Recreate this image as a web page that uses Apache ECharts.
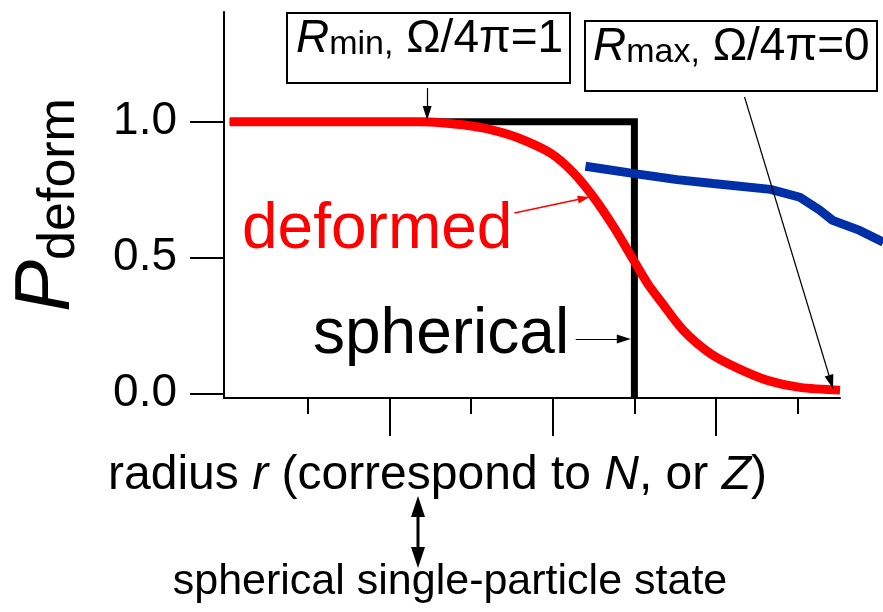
<!DOCTYPE html>
<html>
<head>
<meta charset="utf-8">
<script src="https://cdn.jsdelivr.net/npm/echarts@6/dist/echarts.min.js"></script>
<style>
  html, body { margin: 0; padding: 0; background: #fff; }
  #chart { width: 883px; height: 612px; }
</style>
</head>
<body>
<div id="chart"></div>
<script>
// Radius r in tick units, probability of a deformed shape P_deform.
const deformedR = [0.04, 2.39, 2.63, 2.96, 3.25, 3.58, 3.98, 4.26, 4.50, 4.75, 4.99, 5.16, 5.32, 5.60, 5.93, 6.27, 6.63, 7.03, 7.52];
const deformedP = [1.00, 1.00, 0.996, 0.986, 0.970, 0.940, 0.883, 0.810, 0.722, 0.611, 0.490, 0.405, 0.340, 0.232, 0.147, 0.092, 0.048, 0.022, 0.012];

// Spherical limit: a sharp step at the single-particle radius.
const sphericalR = [0.04, 5.0, 5.0];
const sphericalP = [1.0, 1.0, -0.017];

// Upper curve, continuing past the right end of the axis.
const upperR = [4.41, 4.99, 5.53, 5.97, 6.67, 7.03, 7.27, 7.43, 7.76, 8.05];
const upperP = [0.836, 0.810, 0.787, 0.773, 0.751, 0.722, 0.675, 0.637, 0.600, 0.556];

// Axis ranges and tick positions.
const xRange = [-0.03, 7.52];
const yRange = [-0.017, 1.404];
const xMinorTicks = [1, 3, 5, 7];
const xMajorTicks = [2, 4, 6];
const yTicks = [0, 0.5, 1.0];

const FONT = "'Liberation Sans', Arimo, Helvetica, Arial, sans-serif";

// Plot frame (pixels) of the main grid; the wide grid shares its scale
// but runs to the right edge so the upper curve can leave the frame.
const W = 883, GRID_LEFT = 222, GRID_RIGHT = 43, GRID_TOP = 12, GRID_BOTTOM = 214;
const plotW = W - GRID_LEFT - GRID_RIGHT;
const wideW = W - GRID_LEFT;
const wideMax = xRange[0] + (xRange[1] - xRange[0]) * wideW / plotW;

function zip(xs, ys) { return xs.map((x, i) => [x, ys[i]]); }

const chart = echarts.init(document.getElementById('chart'), null, { renderer: 'canvas' });

const blackArrow = { color: '#000', width: 1.2, type: 'solid' };

chart.setOption({
  animation: false,
  backgroundColor: '#fff',
  grid: [
    { left: GRID_LEFT, top: GRID_TOP, right: GRID_RIGHT, bottom: GRID_BOTTOM, containLabel: false },
    { left: GRID_LEFT, top: GRID_TOP, right: 0, bottom: GRID_BOTTOM, containLabel: false }
  ],
  xAxis: [
    {
      type: 'value', gridIndex: 0, min: xRange[0], max: xRange[1],
      axisLine: { show: true, onZero: false, lineStyle: { color: '#000', width: 2 } },
      axisTick: { show: true, customValues: xMinorTicks, length: 16, lineStyle: { color: '#000', width: 2 } },
      axisLabel: { show: false },
      splitLine: { show: false },
      name: '{n|radius }{i|r}{n| (correspond to }{i|N}{n|, or }{i|Z}{n|)}',
      nameLocation: 'middle',
      nameGap: 54,
      nameTextStyle: {
        color: '#000', fontFamily: FONT, fontSize: 48,
        padding: [0, 189, 0, 0],
        rich: {
          n: { fontSize: 48, fontFamily: FONT, color: '#000', lineHeight: 48, verticalAlign: 'bottom' },
          i: { fontSize: 48, fontFamily: FONT, color: '#000', fontStyle: 'italic', lineHeight: 48, verticalAlign: 'bottom' }
        }
      }
    },
    {
      type: 'value', gridIndex: 0, min: xRange[0], max: xRange[1], position: 'bottom',
      axisLine: { show: false, onZero: false },
      axisTick: { show: true, customValues: xMajorTicks, length: 38, lineStyle: { color: '#000', width: 2 } },
      axisLabel: { show: false },
      splitLine: { show: false }
    },
    {
      type: 'value', gridIndex: 1, min: xRange[0], max: wideMax, show: false
    }
  ],
  yAxis: [
    {
      type: 'value', gridIndex: 0, min: yRange[0], max: yRange[1],
      axisLine: { show: true, onZero: false, lineStyle: { color: '#000', width: 2 } },
      axisTick: { show: true, customValues: yTicks, length: 34, lineStyle: { color: '#000', width: 2 } },
      axisLabel: {
        show: true, customValues: yTicks, margin: 47,
        formatter: v => v.toFixed(1),
        color: '#000', fontFamily: FONT, fontSize: 46
      },
      splitLine: { show: false },
      name: '{p|P}{s|deform}',
      nameLocation: 'middle',
      nameRotate: 90,
      nameGap: 138,
      nameTextStyle: {
        color: '#000', fontFamily: FONT,
        rich: {
          p: { fontSize: 78, fontFamily: FONT, color: '#000', fontStyle: 'italic', lineHeight: 78, verticalAlign: 'bottom' },
          s: { fontSize: 52, fontFamily: FONT, color: '#000', lineHeight: 28, verticalAlign: 'bottom' }
        }
      }
    },
    {
      type: 'value', gridIndex: 1, min: yRange[0], max: yRange[1], show: false
    }
  ],
  series: [
    {
      name: 'spherical', type: 'line', xAxisIndex: 0, yAxisIndex: 0,
      data: zip(sphericalR, sphericalP),
      showSymbol: false, silent: true,
      lineStyle: { color: '#000', width: 7, join: 'miter', cap: 'butt' },
      z: 2,
      markLine: {
        silent: true, animation: false,
        symbol: ['none', 'triangle'], symbolSize: [9, 14],
        label: { show: false },
        lineStyle: blackArrow,
        emphasis: { disabled: true },
        data: [
          [{ coord: [4.28, 0.200] }, { coord: [4.87, 0.200] }],
          [{ coord: [2.46, 1.124] }, { coord: [2.46, 1.032] }],
          [{ coord: [6.35, 1.091] }, { coord: [7.41, 0.042] }]
        ]
      }
    },
    {
      name: 'upper', type: 'line', xAxisIndex: 2, yAxisIndex: 1,
      data: zip(upperR, upperP),
      showSymbol: false, silent: true,
      lineStyle: { color: '#0030a8', width: 9 },
      z: 3
    },
    {
      name: 'deformed', type: 'line', xAxisIndex: 0, yAxisIndex: 0,
      data: zip(deformedR, deformedP),
      showSymbol: false, silent: true, smooth: 0.3,
      lineStyle: { color: '#ff0000', width: 9 },
      z: 4,
      markLine: {
        silent: true, animation: false,
        symbol: ['none', 'triangle'], symbolSize: [8, 12],
        label: { show: false },
        lineStyle: { color: '#ff0000', width: 1.5, type: 'solid' },
        emphasis: { disabled: true },
        data: [
          [{ coord: [3.53, 0.664] }, { coord: [4.38, 0.718] }]
        ]
      }
    }
  ],
  graphic: [
    // callout boxes
    { type: 'rect', shape: { x: 287, y: 13, width: 283, height: 70 }, style: { fill: '#fff', stroke: '#000', lineWidth: 2 }, z: 10 },
    {
      type: 'text', x: 296, y: 16, z: 11,
      style: {
        text: '{r|R}{s|min,}{m| Ω/4π=1}', align: 'left', verticalAlign: 'top',
        rich: {
          r: { fontSize: 46, fontFamily: FONT, fontStyle: 'italic', fill: '#000', lineHeight: 46, verticalAlign: 'bottom' },
          s: { fontSize: 34, fontFamily: FONT, fill: '#000', lineHeight: 12, verticalAlign: 'bottom' },
          m: { fontSize: 46, fontFamily: FONT, fill: '#000', lineHeight: 46, verticalAlign: 'bottom' }
        }
      }
    },
    { type: 'rect', shape: { x: 585, y: 21, width: 292, height: 70 }, style: { fill: '#fff', stroke: '#000', lineWidth: 2 }, z: 10 },
    {
      type: 'text', x: 593, y: 24, z: 11,
      style: {
        text: '{r|R}{s|max,}{m| Ω/4π=0}', align: 'left', verticalAlign: 'top',
        rich: {
          r: { fontSize: 46, fontFamily: FONT, fontStyle: 'italic', fill: '#000', lineHeight: 46, verticalAlign: 'bottom' },
          s: { fontSize: 34, fontFamily: FONT, fill: '#000', lineHeight: 12, verticalAlign: 'bottom' },
          m: { fontSize: 46, fontFamily: FONT, fill: '#000', lineHeight: 46, verticalAlign: 'bottom' }
        }
      }
    },
    // curve labels
    {
      type: 'text', x: 242, y: 230, z: 11,
      style: { text: 'deformed', fill: '#ff0000', fontSize: 64, fontFamily: FONT, align: 'left', verticalAlign: 'middle' }
    },
    {
      type: 'text', x: 313, y: 335, z: 11,
      style: { text: 'spherical', fill: '#000', fontSize: 64, fontFamily: FONT, align: 'left', verticalAlign: 'middle' }
    },
    // double arrow to the caption below the axis title
    { type: 'line', shape: { x1: 418, y1: 512, x2: 418, y2: 552 }, style: { stroke: '#000', lineWidth: 3 }, z: 11 },
    { type: 'polygon', shape: { points: [[418, 496], [411, 517], [425, 517]] }, style: { fill: '#000' }, z: 11 },
    { type: 'polygon', shape: { points: [[418, 568], [411, 547], [425, 547]] }, style: { fill: '#000' }, z: 11 },
    {
      type: 'text', x: 450, y: 582, z: 11,
      style: { text: 'spherical single-particle state', fill: '#000', fontSize: 43, fontFamily: FONT, align: 'center', verticalAlign: 'middle' }
    }
  ]
});
</script>
</body>
</html>
